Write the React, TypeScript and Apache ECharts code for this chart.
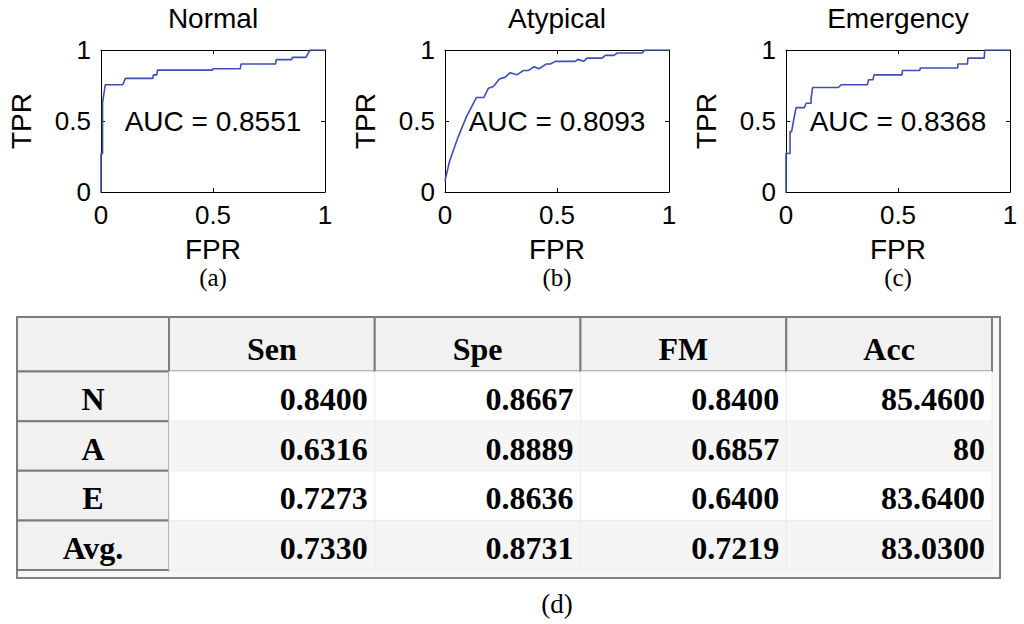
import React, { useEffect, useRef } from "react";
import * as echarts from "echarts";

// ---------- data ----------
const panelTitles = ["Normal", "Atypical", "Emergency"];
const panelCaptions = ["(a)", "(b)", "(c)"];
const aucValues = [0.8551, 0.8093, 0.8368];
const xAxisName = "FPR";
const yAxisName = "TPR";

const rocNormal: number[][] = [
  [0, 0], [0, 0.27], [0.007, 0.27], [0.007, 0.63], [0.019, 0.755], [0.097, 0.755],
  [0.109, 0.8], [0.231, 0.8], [0.234, 0.825], [0.249, 0.825], [0.252, 0.858],
  [0.497, 0.858], [0.5, 0.868], [0.622, 0.868], [0.625, 0.901], [0.779, 0.901],
  [0.782, 0.932], [0.851, 0.932], [0.854, 0.948], [0.915, 0.948], [0.933, 1], [1, 1],
];

const rocAtypical: number[][] = [
  [0, 0.08], [0.021, 0.22], [0.058, 0.385], [0.095, 0.527], [0.14, 0.665], [0.173, 0.665],
  [0.194, 0.731], [0.216, 0.743], [0.243, 0.795], [0.269, 0.809], [0.291, 0.84],
  [0.321, 0.825], [0.351, 0.856], [0.373, 0.856], [0.398, 0.882], [0.419, 0.868],
  [0.452, 0.901], [0.47, 0.901], [0.493, 0.92], [0.582, 0.92], [0.593, 0.934],
  [0.619, 0.92], [0.634, 0.943], [0.701, 0.943], [0.716, 0.962], [0.754, 0.962],
  [0.769, 0.979], [0.881, 0.979], [0.891, 1], [1, 1],
];

const rocEmergency: number[][] = [
  [0, 0], [0, 0.271], [0.018, 0.271], [0.018, 0.425], [0.025, 0.425], [0.033, 0.495],
  [0.037, 0.53], [0.045, 0.594], [0.082, 0.594], [0.09, 0.625], [0.112, 0.625],
  [0.112, 0.66], [0.119, 0.736], [0.234, 0.736], [0.246, 0.755], [0.363, 0.755],
  [0.369, 0.79], [0.388, 0.79], [0.393, 0.825], [0.518, 0.825], [0.52, 0.856],
  [0.597, 0.856], [0.6, 0.873], [0.766, 0.873], [0.768, 0.901], [0.81, 0.901],
  [0.812, 0.943], [0.885, 0.943], [0.887, 1], [1, 1],
];

const rocCurves = [rocNormal, rocAtypical, rocEmergency];

const metricNames = ["Sen", "Spe", "FM", "Acc"];
const classLabels = ["N", "A", "E", "Avg."];
const senValues = [0.84, 0.6316, 0.7273, 0.733];
const speValues = [0.8667, 0.8889, 0.8636, 0.8731];
const fmValues = [0.84, 0.6857, 0.64, 0.7219];
const accValues = [85.46, 80, 83.64, 83.03];
const tableCaption = "(d)";

// ---------- layout ----------
const PLOT_LEFTS = [101, 445, 786];
const PLOT_TOP = 50;
const PLOT_W = 224;
const PLOT_H = 142;
const SANS = '"Liberation Sans", Arial, Helvetica, sans-serif';
const SERIF = '"Liberation Serif", "Times New Roman", Times, serif';
const LINE_BLUE = "#3c4fb6";

const TABLE_LEFT = 17;
const TABLE_TOP = 317;
const HEADER_EXTRA = 5;
const LABEL_COL_W = 152;
const DATA_W = 823;
const ROWS_H = 248;

function fmt(v: number): string {
  return Number.isInteger(v) ? String(v) : v.toFixed(4);
}

function buildOption() {
  const grids: any[] = [];
  const xAxes: any[] = [];
  const yAxes: any[] = [];
  const series: any[] = [];
  const graphics: any[] = [];

  PLOT_LEFTS.forEach((left, i) => {
    grids.push({ left, top: PLOT_TOP, width: PLOT_W, height: PLOT_H, containLabel: false });
    const common = {
      gridIndex: i,
      type: "value",
      min: 0,
      max: 1,
      interval: 0.5,
      axisLine: { show: true, onZero: false, lineStyle: { color: "#000", width: 1 } },
      axisTick: { show: true, inside: true, length: 4, lineStyle: { color: "#000", width: 1 } },
      splitLine: { show: false },
    };
    xAxes.push({
      ...common,
      position: "bottom",
      axisLabel: { show: true, margin: 10, fontSize: 26, color: "#000", fontFamily: SANS },
      name: xAxisName,
      nameLocation: "middle",
      nameGap: 47,
      nameTextStyle: { fontSize: 28, lineHeight: 20, color: "#000", fontFamily: SANS },
    });
    xAxes.push({ ...common, position: "top", axisLabel: { show: false } });
    yAxes.push({
      ...common,
      position: "left",
      axisLabel: { show: true, margin: 10, fontSize: 26, color: "#000", fontFamily: SANS },
      name: yAxisName,
      nameLocation: "middle",
      nameGap: 66,
      nameTextStyle: { fontSize: 28, color: "#000", fontFamily: SANS },
    });
    yAxes.push({ ...common, position: "right", axisLabel: { show: false } });

    series.push({
      type: "line",
      xAxisIndex: i * 2,
      yAxisIndex: i * 2,
      data: rocCurves[i],
      showSymbol: false,
      symbol: "none",
      lineStyle: { color: LINE_BLUE, width: 1.6 },
      silent: true,
      markPoint: {
        symbol: "circle",
        symbolSize: 1,
        itemStyle: { color: "rgba(0,0,0,0)" },
        label: {
          show: true,
          position: "inside",
          formatter: "AUC = " + aucValues[i].toFixed(4),
          fontSize: 28,
          color: "#000",
          fontFamily: SANS,
        },
        data: [{ coord: [0.5, 0.5] }],
      },
    });

    const cx = left + PLOT_W / 2;
    graphics.push({
      type: "text",
      x: cx,
      y: 18,
      style: {
        text: panelTitles[i],
        font: "28px " + SANS,
        fill: "#000",
        align: "center",
        verticalAlign: "middle",
        textAlign: "center",
        textVerticalAlign: "middle",
      },
    });
    graphics.push({
      type: "text",
      x: cx,
      y: 277,
      style: {
        text: panelCaptions[i],
        font: "25px " + SERIF,
        lineHeight: 20,
        fill: "#000",
        align: "center",
        verticalAlign: "middle",
        textAlign: "center",
        textVerticalAlign: "middle",
      },
    });
  });

  // ---------- table ----------
  const rowCats = ["", ...classLabels];
  const gridTop = TABLE_TOP + HEADER_EXTRA;
  // label column grid (index 3)
  grids.push({ left: TABLE_LEFT, top: gridTop, width: LABEL_COL_W, height: ROWS_H });
  xAxes.push({ gridIndex: 3, type: "category", data: [""], show: false });
  yAxes.push({ gridIndex: 3, type: "category", data: rowCats, inverse: true, show: false });
  // data grid (index 4)
  grids.push({ left: TABLE_LEFT + LABEL_COL_W, top: gridTop, width: DATA_W, height: ROWS_H });
  xAxes.push({ gridIndex: 4, type: "category", data: metricNames, show: false });
  yAxes.push({ gridIndex: 4, type: "category", data: rowCats, inverse: true, show: false });

  const labelCells = rowCats.map((lab, r) => ({ value: [0, r], label: lab }));
  const columns = [senValues, speValues, fmValues, accValues];
  const dataCells: any[] = [];
  metricNames.forEach((m, c) => {
    dataCells.push({ value: [c, 0], label: m, header: true });
    classLabels.forEach((_, r) => {
      dataCells.push({ value: [c, r + 1], label: fmt(columns[c][r]), header: false });
    });
  });

  const cellText = (text: string, x: number, y: number, align: string) => ({
    type: "text",
    style: {
      text,
      x,
      y,
      font: "bold 32px " + SERIF,
      fill: "#000",
      align,
      verticalAlign: "middle",
    },
  });

  series.push({
    type: "custom",
    xAxisIndex: 6,
    yAxisIndex: 6,
    silent: true,
    data: labelCells.map((d) => d.value),
    renderItem: (params: any, api: any) => {
      const cell = labelCells[params.dataIndex];
      const row = api.value(1);
      const p = api.coord([api.value(0), row]);
      const s = api.size([1, 1]);
      const extra = row === 0 ? HEADER_EXTRA : 0;
      return {
        type: "group",
        children: [
          {
            type: "rect",
            shape: { x: p[0] - s[0] / 2, y: p[1] - s[1] / 2 - extra, width: s[0], height: s[1] + extra },
            style: { fill: "#f1f1f1", stroke: "#7d7d7d", lineWidth: 2 },
          },
          cellText(cell.label, p[0], p[1] + 2.5, "center"),
        ],
      };
    },
  });

  series.push({
    type: "custom",
    xAxisIndex: 7,
    yAxisIndex: 7,
    silent: true,
    data: dataCells.map((d) => d.value),
    renderItem: (params: any, api: any) => {
      const cell = dataCells[params.dataIndex];
      const col = api.value(0);
      const row = api.value(1);
      const p = api.coord([col, row]);
      const s = api.size([1, 1]);
      const x0 = p[0] - s[0] / 2;
      const y0 = p[1] - s[1] / 2;
      if (cell.header) {
        return {
          type: "group",
          children: [
            {
              type: "rect",
              shape: { x: x0, y: y0 - HEADER_EXTRA, width: s[0], height: s[1] + HEADER_EXTRA },
              style: { fill: "#f1f1f1", stroke: "#7d7d7d", lineWidth: 2 },
            },
            cellText(cell.label, p[0], p[1] + 2, "center"),
          ],
        };
      }
      return {
        type: "group",
        children: [
          {
            type: "rect",
            shape: { x: x0, y: y0, width: s[0], height: s[1] },
            style: { fill: row % 2 === 0 ? "#f5f5f5" : "#ffffff", stroke: "#ececec", lineWidth: 1 },
          },
          cellText(cell.label, x0 + s[0] - 7, p[1] + 2.5, "right"),
        ],
      };
    },
  });

  // outer frame of the table
  graphics.push({
    type: "rect",
    z: -10,
    shape: { x: TABLE_LEFT, y: TABLE_TOP, width: 983, height: 261 },
    style: { fill: "#f7f7f7", stroke: "#808080", lineWidth: 2 },
  });
  graphics.push({
    type: "text",
    x: 557,
    y: 604,
    style: {
      text: tableCaption,
      font: "27px " + SERIF,
      fill: "#000",
      align: "center",
      verticalAlign: "middle",
      textAlign: "center",
      textVerticalAlign: "middle",
    },
  });

  return {
    animation: false,
    backgroundColor: "#ffffff",
    grid: grids,
    xAxis: xAxes,
    yAxis: yAxes,
    series,
    graphic: { elements: graphics },
  };
}

export default function App() {
  const ref = useRef<HTMLDivElement>(null);
  useEffect(() => {
    document.body.style.margin = "0";
    if (!ref.current) return;
    const chart = echarts.init(ref.current, undefined, { renderer: "svg", width: 1024, height: 624 });
    chart.setOption(buildOption() as any);
    return () => {
      chart.dispose();
    };
  }, []);
  return <div ref={ref} style={{ width: 1024, height: 624 }} />;
}
